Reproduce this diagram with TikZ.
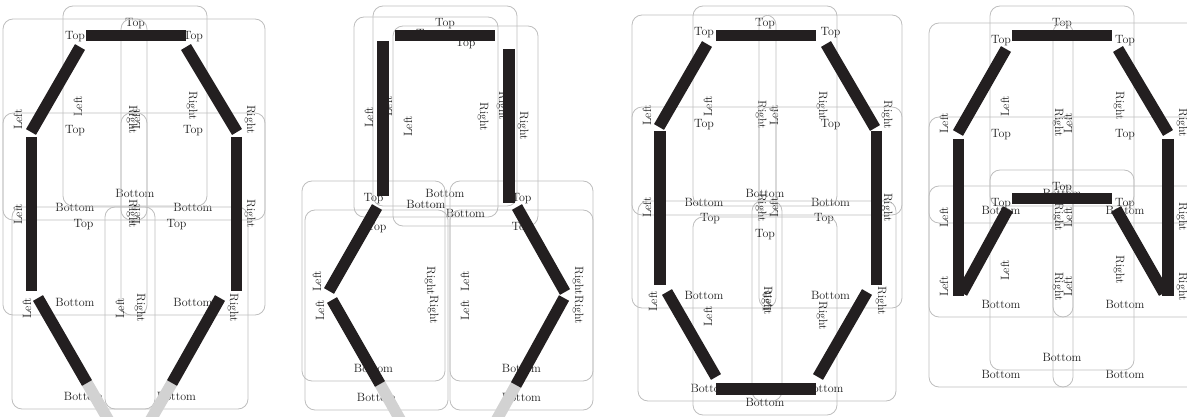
\documentclass[tikz,border=0pt]{standalone}
\definecolor{barcol}{RGB}{35,31,32}
\definecolor{ghost}{RGB}{210,210,210}
\definecolor{framecol}{RGB}{190,190,190}
\definecolor{txt}{RGB}{30,30,30}
\tikzset{
  cellframe/.style={draw=framecol, line width=0.8pt, rounded corners=10pt},
  lbl/.style={inner sep=0pt, text=txt, font=\fontsize{12}{14}\selectfont},
  seg/.style={draw=barcol, line width=11.5pt, line cap=butt},
  ghostseg/.style={draw=ghost, line width=11.5pt, line cap=butt},
}
% #1 name, #2 x1, #3 y1 (down), #4 x2, #5 y2 (down)
\newcommand\cellbox[5]{%
  \pgfmathsetmacro\cbcx{(#2+#4)/2}%
  \pgfmathsetmacro\cbcy{-(#3+#5)/2}%
  \pgfmathsetmacro\cbty{-(#3+17.5)}%
  \pgfmathsetmacro\cbby{-(#5-13)}%
  \pgfmathsetmacro\cblx{#2+15}%
  \pgfmathsetmacro\cbrx{#4-15}%
  \draw[cellframe] (#2,-#3) rectangle (#4,-#5);
  \node[lbl] (#1-top) at (\cbcx,\cbty) {Top};
  \node[lbl] (#1-bottom) at (\cbcx,\cbby) {Bottom};
  \node[lbl,rotate=90] (#1-left) at (\cblx,\cbcy) {Left};
  \node[lbl,rotate=-90] (#1-right) at (\cbrx,\cbcy) {Right};
}
\begin{document}
\begin{tikzpicture}[x=1pt,y=1pt]
\useasboundingbox (0,0) rectangle (1187,-417);
\clip (0,0) rectangle (1187,-417);

% ---------- Panel 1 ----------
\cellbox{pa1}{63}{6}{207}{206}
\cellbox{pa2}{3}{19}{147}{220}
\cellbox{pa3}{121}{19}{265}{220}
\cellbox{pa4}{3}{113}{147}{315}
\cellbox{pa5}{121}{113}{265}{315}
\cellbox{pa6}{12}{207}{155}{409}
\cellbox{pa7}{105}{207}{248}{409}

% ---------- Panel 2 ----------
\cellbox{pb1}{373}{6}{517}{206}
\cellbox{pb2}{354}{17}{498}{217}
\cellbox{pb3}{393}{26}{538}{226}
\cellbox{pb4}{302}{181}{445}{381}
\cellbox{pb5}{305}{210}{448}{410}
\cellbox{pb6}{450}{181}{593}{381}
\cellbox{pb7}{450}{210}{593}{410}

% ---------- Panel 3 ----------
\cellbox{pc1}{693}{6}{837}{206}
\cellbox{pc2}{632}{15}{776}{215}
\cellbox{pc3}{759}{15}{902}{215}
\cellbox{pc4}{632}{107}{776}{308}
\cellbox{pc5}{759}{107}{902}{308}
\cellbox{pc6}{638}{201}{782}{401}
\cellbox{pc7}{752}{201}{896}{401}
\cellbox{pc8}{693}{217}{837}{415}

% ---------- Panel 4 ----------
\cellbox{pd1}{990}{6}{1134}{206}
\cellbox{pd2}{929}{23}{1073}{223}
\cellbox{pd3}{1053}{23}{1197}{223}
\cellbox{pd4}{929}{117}{1073}{317}
\cellbox{pd5}{1053}{117}{1197}{317}
\cellbox{pd6}{929}{186}{1073}{387}
\cellbox{pd7}{1053}{186}{1197}{387}
\cellbox{pd8}{990}{170}{1134}{370}

% ---------- strokes ----------
% panel 1
\draw[ghostseg] (87,-383) -- (120,-440);
\draw[ghostseg] (172,-383) -- (139,-440);
\draw[seg] (86,-35.5) -- (186,-35.5);
\draw[seg] (80,-47) -- (31,-132);
\draw[seg] (186,-47) -- (237,-132);
\draw[seg] (31.5,-137) -- (31.5,-291);
\draw[seg] (236.5,-137) -- (236.5,-291);
\draw[seg] (38,-298) -- (87,-383);
\draw[seg] (220,-298) -- (172,-383);

% panel 2
\draw[ghostseg] (380,-384) -- (406,-430);
\draw[ghostseg] (516,-385) -- (491,-430);
\draw[seg] (395,-35.5) -- (495,-35.5);
\draw[seg] (383,-41) -- (383,-196);
\draw[seg] (509,-49) -- (509,-203);
\draw[seg] (377,-207) -- (329,-291);
\draw[seg] (332,-300) -- (380,-384);
\draw[seg] (517,-207) -- (565,-292);
\draw[seg] (564,-298) -- (516,-385);

% panel 3
\draw[seg] (716,-35.5) -- (816,-35.5);
\draw[seg] (707,-44) -- (659,-127);
\draw[seg] (826,-44) -- (875,-128);
\draw[seg] (660,-131) -- (660,-285);
\draw[seg] (876.5,-131) -- (876.5,-285);
\draw[seg] (667,-292) -- (716,-377);
\draw[seg] (867,-292) -- (818,-377);
\draw[seg] (716,-389) -- (816,-389);

% panel 4
\draw[seg] (1012,-35.5) -- (1112,-35.5);
\draw[seg] (1006,-49) -- (958,-133);
\draw[seg] (1118,-49) -- (1168,-133);
\draw[seg] (958.5,-139) -- (958.5,-296);
\draw[seg] (1008,-209) -- (962,-293);
\draw[seg] (1168,-139) -- (1168,-296);
\draw[seg] (1116,-209) -- (1164,-293);
\draw[seg] (1012,-198.5) -- (1112,-198.5);
\end{tikzpicture}
\end{document}
